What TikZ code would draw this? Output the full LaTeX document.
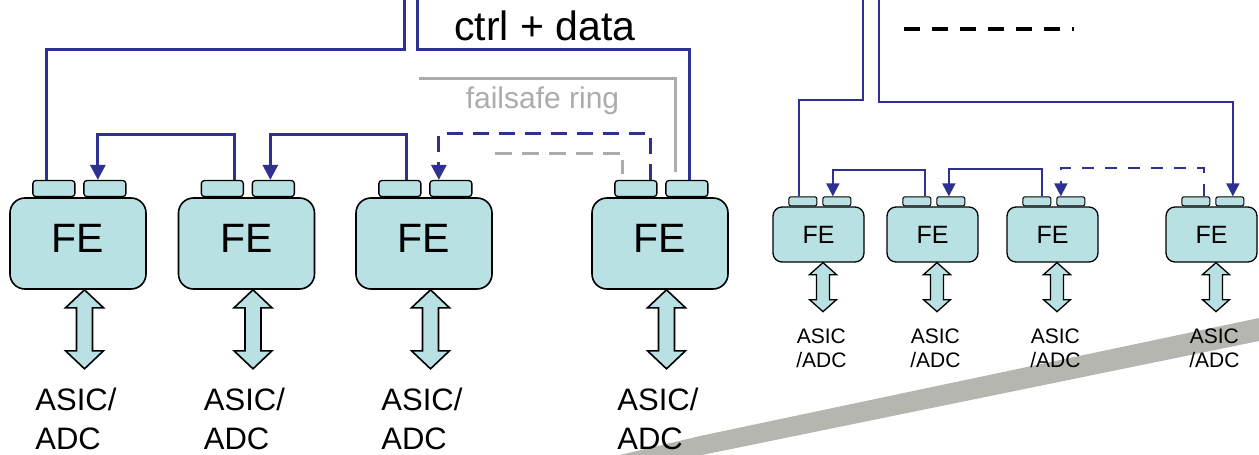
\documentclass[tikz,border=0pt]{standalone}
\usepackage{fontspec}
\setmainfont{Liberation Sans}
\usetikzlibrary{arrows.meta,positioning}
\definecolor{febox}{RGB}{185,224,227}
\definecolor{linkblue}{RGB}{46,49,146}
\definecolor{ringgray}{RGB}{172,172,172}
\definecolor{bandgray}{RGB}{182,182,176}
\tikzset{
  fe/.style={draw=black,line width=1.6pt,fill=febox,rounded corners=15pt,minimum width=136pt,minimum height=91pt,inner sep=0pt,text depth=10pt,font=\fontsize{41}{41}\selectfont},
  fesmall/.style={fe,rounded corners=9pt,minimum width=91pt,minimum height=55pt,text depth=0pt,line width=1.3pt,font=\fontsize{25}{25}\selectfont},
  port/.style={draw=black,line width=1.3pt,fill=febox,rounded corners=3pt,minimum width=42pt,minimum height=16pt,inner sep=0pt,anchor=south west},
  portsmall/.style={port,minimum width=28pt,minimum height=9pt,rounded corners=2pt,line width=1pt},
  link/.style={linkblue,line width=3pt},
  linksmall/.style={linkblue,line width=2pt},
  ring/.style={ringgray,line width=3pt},
  tip/.style={-{Triangle[width=15pt,length=15pt]}},
  tipsmall/.style={-{Triangle[width=13pt,length=13pt]}},
  bidir/.style={draw=black,line width=1.6pt,fill=febox,line join=miter},
  asic/.style={inner sep=0pt,align=left,anchor=north west,font=\fontsize{31}{39}\selectfont},
  asicsmall/.style={inner sep=0pt,align=center,anchor=north,font=\fontsize{21}{24}\selectfont},
}
% tip, half head, half shaft, head length, total length
\newcommand{\dblarrow}[6][]{%
  \draw[bidir,#1] (#2) -- ++(#3,#5) -- ++({#4-#3},0) -- ++(0,{#6-2*#5}) -- ++({#3-#4},0)
    -- ++(-#3,#5) -- ++(-#3,-#5) -- ++({#3-#4},0) -- ++(0,{2*#5-#6}) -- ++({#4-#3},0) -- cycle;}
\begin{document}
\begin{tikzpicture}[x=1pt,y=-1pt,line cap=butt,line join=miter]
  \useasboundingbox (0,0) rectangle (1259,455);
  % stripe behind
  \fill[bandgray] (620,455) -- (700,436) -- (1259,318) -- (1259,341) -- (702,455) -- cycle;

  % large front ends
  \foreach \n/\x in {1/78,2/246.5,3/424,4/660} {
    \node[fe] (fe\n) at (\x,243.5) {FE};
    \node[port] (pl\n) at ([xshift=23pt]fe\n.north west) {};
    \node[port] (pr\n) at ([xshift=74pt]fe\n.north west) {};
    \dblarrow{[xshift=6.5pt]fe\n.south}{19}{8}{18}{79}
    \node[asic] (asic\n) at ([shift={(26,98)}]fe\n.south west) {ASIC/\\ADC};
  }

  % small front ends
  \foreach \n/\x in {5/818.5,6/932.5,7/1052.5,8/1211.5} {
    \node[fesmall] (fe\n) at (\x,234.5) {FE};
    \node[portsmall] (pl\n) at ([xshift=16pt]fe\n.north west) {};
    \node[portsmall] (pr\n) at ([xshift=50pt]fe\n.north west) {};
    \dblarrow[line width=1.3pt]{[xshift=4.5pt]fe\n.south}{13.5}{6.5}{12}{49}
    \node[asicsmall] (asic\n) at ([shift={(49,66)}]fe\n.south west) {ASIC\\/ADC};
  }

  % ctrl + data, left
  \coordinate (topL) at (404,0);
  \coordinate (topR) at (417,0);
  \draw[link] (topL) -- ++(0,49) -| ([xshift=-7pt]pl1.north);
  \draw[link] (topR) -- ++(0,49) -| ([xshift=3pt]pr4.north);
  \draw[link,tip] ([xshift=12pt]pl2.north) -- ++(0,-45) -| ([xshift=-7pt]pr1.north);
  \draw[link,tip] ([xshift=7pt]pl3.north) -- ++(0,-45) -| ([xshift=-3pt]pr2.north);
  \draw[link,tip,dash pattern=on 16pt off 10pt] ([xshift=15pt]pl4.north) -- ++(0,-46) -| ([xshift=-12pt]pr3.north);
  \node[font=\fontsize{41}{41}\selectfont,anchor=base] (ctrl) at (545,40) {ctrl + data};

  % failsafe ring
  \coordinate (ringA) at (419,78);
  \coordinate (ringB) at (495,153);
  \draw[ring,shorten >=8pt] (ringA) -| ([xshift=-11pt]pr4.north);
  \draw[ring,dash pattern=on 17pt off 10pt,shorten >=6pt] (ringB) -| ([xshift=-13pt]pl4.north);
  \node[ringgray,font=\fontsize{30}{30}\selectfont,anchor=base] (ringtxt) at (542.5,108) {failsafe ring};

  % right group
  \coordinate (topL2) at (863,0);
  \coordinate (topR2) at (879,0);
  \draw[linksmall] (topL2) -- ++(0,100) -| ([xshift=-4pt]pl5.north);
  \draw[linksmall,tipsmall] (topR2) -- ++(0,102) -| ([xshift=3pt]pr8.north);
  \draw[linksmall,tipsmall] ([xshift=8pt]pl6.north) -- ++(0,-26) -| ([xshift=-4pt]pr5.north);
  \draw[linksmall,tipsmall] ([xshift=5pt]pl7.north) -- ++(0,-27) -| ([xshift=-2pt]pr6.north);
  \draw[linksmall,tipsmall,dash pattern=on 12pt off 11pt] ([xshift=8pt]pl8.north) -- ++(0,-28) -| ([xshift=-10pt]pr7.north);
  \coordinate (gapL) at (904,29);
  \coordinate (gapR) at (1074,29);
  \draw[line width=4pt,dash pattern=on 16pt off 12pt] (gapL) -- (gapR);
\end{tikzpicture}
\end{document}
